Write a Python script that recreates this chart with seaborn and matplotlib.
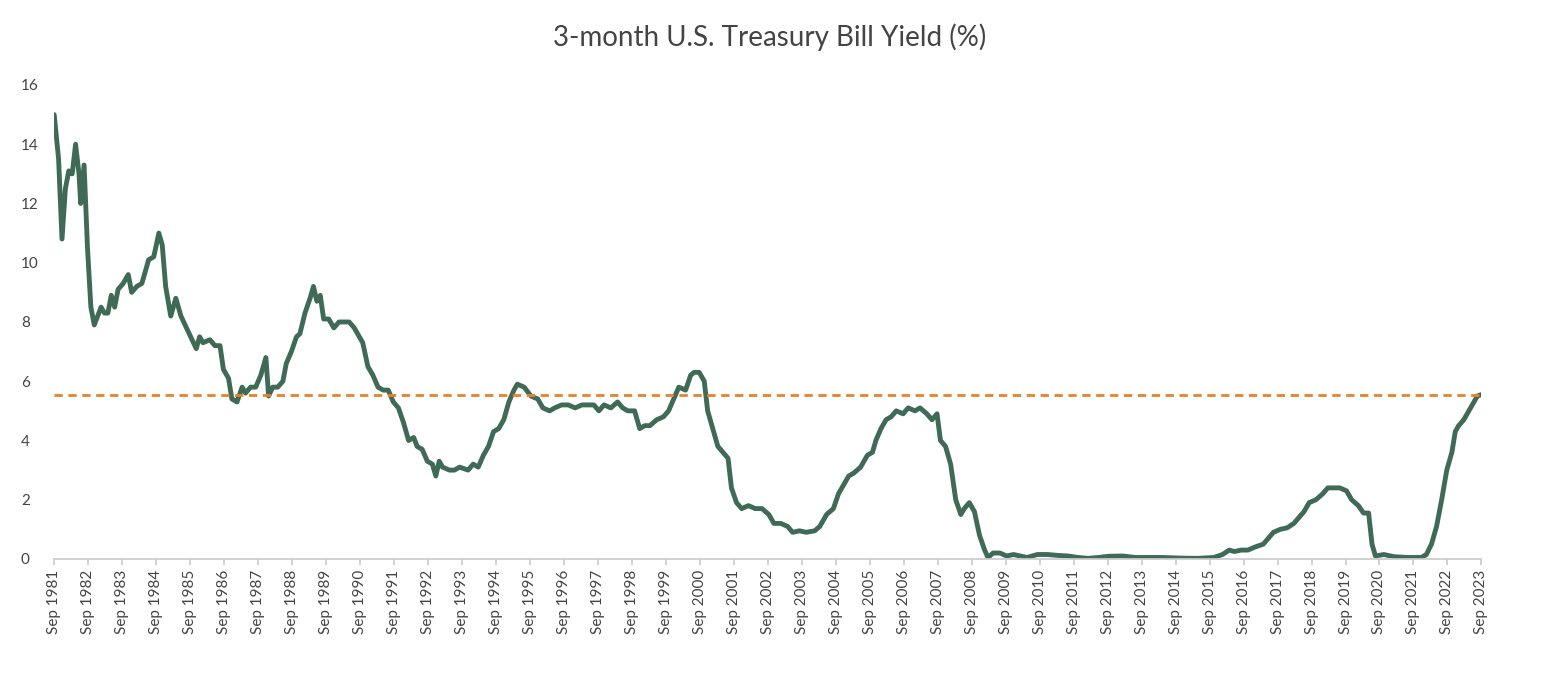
import matplotlib
matplotlib.use("Agg")
import matplotlib.pyplot as plt
import seaborn as sns
import pandas as pd

years = [1981.67,1981.8,1981.9,1982.0,1982.1,1982.2,1982.3,1982.4,1982.45,1982.55,1982.65,1982.75,1982.85,1982.95,
1983.05,1983.15,1983.25,1983.35,1983.45,1983.55,1983.7,1983.85,1983.95,1984.1,1984.25,1984.45,1984.6,1984.75,1984.85,1984.95,
1985.1,1985.25,1985.4,1985.55,1985.65,1985.75,1985.95,1986.1,1986.25,1986.35,1986.5,1986.6,1986.75,1986.9,
1987.0,1987.15,1987.3,1987.45,1987.6,1987.68,1987.8,1987.95,1988.1,1988.2,1988.35,1988.5,1988.6,1988.75,1988.9,
1989.0,1989.1,1989.2,1989.3,1989.45,1989.6,1989.75,1989.9,1990.05,1990.2,1990.35,1990.45,1990.6,1990.75,1990.9,
1991.05,1991.2,1991.35,1991.5,1991.65,1991.8,1991.95,1992.05,1992.2,1992.35,1992.5,1992.6,1992.7,1992.8,
1993.0,1993.15,1993.3,1993.55,1993.7,1993.85,1994.0,1994.15,1994.3,1994.45,1994.6,1994.75,1994.9,
1995.0,1995.2,1995.4,1995.6,1995.75,1995.95,1996.1,1996.3,1996.5,1996.7,1996.9,1997.1,1997.25,1997.4,1997.55,1997.75,1997.95,
1998.1,1998.25,1998.45,1998.6,1998.75,1998.9,1999.1,1999.3,1999.45,1999.6,1999.75,1999.95,
2000.1,2000.2,2000.35,2000.5,2000.6,2000.75,2000.9,2001.05,2001.2,2001.3,2001.45,2001.6,2001.8,
2002.0,2002.2,2002.4,2002.55,2002.75,2002.95,2003.1,2003.3,2003.5,2003.75,2003.9,
2004.1,2004.3,2004.45,2004.6,2004.75,2004.9,2005.1,2005.3,2005.45,2005.55,2005.7,2005.85,
2006.0,2006.15,2006.35,2006.5,2006.7,2006.85,2007.05,2007.2,2007.35,2007.45,2007.6,2007.75,2007.9,
2008.05,2008.15,2008.3,2008.45,2008.6,2008.75,2008.85,2009.0,2009.2,2009.4,2009.6,2009.8,
2010.0,2010.3,2010.6,2010.9,2011.2,2011.5,2011.8,2012.1,2012.4,2012.8,2013.2,2013.6,2014.0,2014.5,
2015.0,2015.5,2015.75,2015.95,2016.1,2016.3,2016.5,2016.7,2016.95,2017.1,2017.25,2017.45,2017.65,2017.85,
2018.0,2018.15,2018.3,2018.5,2018.7,2018.85,2019.0,2019.2,2019.4,2019.55,2019.75,2019.9,
2020.05,2020.15,2020.25,2020.5,2020.8,2021.1,2021.5,2021.9,2022.05,2022.2,2022.35,2022.5,2022.65,2022.8,2022.9,
2023.0,2023.15,2023.3,2023.45,2023.55,2023.67]
yields = [15.0,13.5,10.8,12.5,13.1,13.0,14.0,13.0,12.0,13.3,10.5,8.5,7.9,8.2,
8.5,8.3,8.3,8.9,8.5,9.1,9.3,9.6,9.0,9.2,9.3,10.1,10.2,11.0,10.6,9.2,
8.2,8.8,8.2,7.1,7.5,7.3,7.4,7.2,7.2,6.4,6.1,5.4,5.3,5.8,
5.6,5.8,5.8,6.2,6.8,5.5,5.8,5.8,6.0,6.6,7.0,7.5,7.6,8.3,8.8,
9.2,8.7,8.9,8.1,8.1,7.8,8.0,8.0,8.0,7.8,7.5,7.3,6.5,6.2,5.8,
5.7,5.7,5.3,5.1,4.6,4.0,4.1,3.8,3.7,3.3,3.2,2.8,3.3,3.1,
3.0,3.0,3.1,3.0,3.2,3.1,3.5,3.8,4.3,4.4,4.7,5.3,5.7,
5.9,5.8,5.5,5.4,5.1,5.0,5.1,5.2,5.2,5.1,5.2,5.2,5.2,5.0,5.2,5.1,5.3,
5.1,5.0,5.0,4.4,4.5,4.5,4.7,4.8,5.0,5.4,5.8,5.7,
6.2,6.3,6.3,6.0,5.0,4.4,3.8,3.6,3.4,2.4,1.9,1.7,1.8,
1.7,1.7,1.5,1.2,1.2,1.1,0.9,0.95,0.9,0.95,1.1,
1.5,1.7,2.2,2.5,2.8,2.9,3.1,3.5,3.6,4.0,4.4,4.7,
4.8,5.0,4.9,5.1,5.0,5.1,4.9,4.7,4.9,4.0,3.8,3.2,2.0,
1.5,1.7,1.9,1.6,0.8,0.3,0.05,0.2,0.2,0.1,0.15,0.1,
0.05,0.15,0.15,0.12,0.1,0.05,0.02,0.05,0.09,0.1,0.05,0.05,0.05,0.03,
0.02,0.05,0.15,0.3,0.25,0.3,0.3,0.4,0.5,0.7,0.9,1.0,1.05,1.2,
1.4,1.6,1.9,2.0,2.2,2.4,2.4,2.4,2.3,2.0,1.8,1.55,
1.55,0.5,0.1,0.15,0.1,0.05,0.05,0.05,0.15,0.5,1.1,2.0,3.0,3.6,4.3,
4.5,4.7,5.0,5.3,5.5,5.55]
# reading correction: mid-period dates were read ~0.3 yr early
date_shift = 0.3
current_level = 5.55
tick_years = list(range(1981, 2024))
tick_labels = [f"Sep {y}" for y in tick_years]

sns.set_theme(style="white")
plt.rcParams['font.family'] = ['Lato', 'DejaVu Sans']

xs = [y + date_shift if 1985.5 <= y <= 2021.0 else y for y in years]
df = pd.DataFrame({"year": xs, "yield": yields})
fig, ax = plt.subplots(figsize=(15.48, 6.8), dpi=100)
fig.subplots_adjust(left=0.035, right=0.957, top=0.875, bottom=0.178)
sns.lineplot(data=df, x="year", y="yield", ax=ax, color="#3f6b56", linewidth=3.5)
ax.axhline(current_level, color="#e5832f", linestyle=(0, (3, 2)), linewidth=2)

ax.set_xlim(1981.67, 2023.67)
ax.set_ylim(0, 16)
ax.set_yticks(range(0, 17, 2))
ax.set_xticks([y + 0.67 for y in tick_years])
ax.set_xticklabels(tick_labels, rotation=90, fontsize=11, color="#444444")
ax.tick_params(axis="y", labelsize=11, labelcolor="#444444", length=0)
ax.tick_params(axis="x", bottom=True, length=4, color="#cccccc")
ax.set_xlabel("")
ax.set_ylabel("")
for s in ["top", "right", "left"]:
    ax.spines[s].set_visible(False)
ax.spines["bottom"].set_color("#cccccc")
for lab in ax.get_yticklabels():
    lab.set_horizontalalignment("left")
ax.yaxis.set_tick_params(pad=24)
fig.suptitle("3-month U.S. Treasury Bill Yield (%)", fontsize=20, color="#444444", x=0.497, y=0.965)
fig.savefig("out.png")
